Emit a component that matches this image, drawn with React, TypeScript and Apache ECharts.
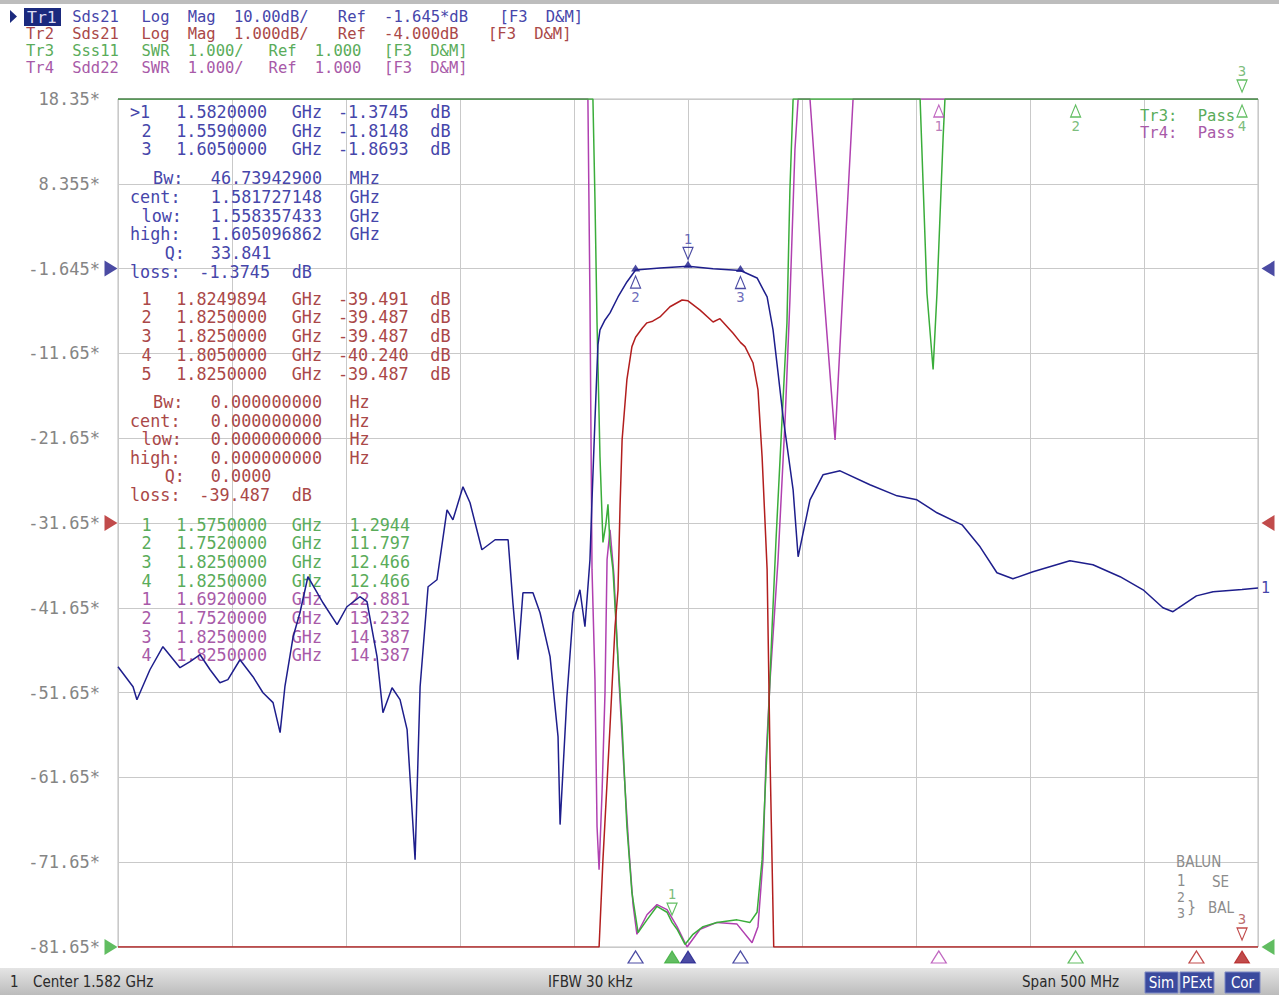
import React, { useEffect, useRef } from "react";
import * as echarts from "echarts";

// ---------- instrument settings ----------
const CENTER_MHZ = 1582;
const SPAN_MHZ = 500;
const F_START = CENTER_MHZ - SPAN_MHZ / 2;
const F_STOP = CENTER_MHZ + SPAN_MHZ / 2;
const DIVS = 10;

const TR1_SCALE = 10, TR1_REF = -1.645, TR1_REF_POS = 8;
const TR2_SCALE = 1, TR2_REF = -4, TR2_REF_POS = 5;
const SWR_SCALE = 1, SWR_REF = 1, SWR_REF_POS = 0;

const Y_TICK_LABELS = ["18.35*", "8.355*", "-1.645*", "-11.65*", "-21.65*", "-31.65*", "-41.65*", "-51.65*", "-61.65*", "-71.65*", "-81.65*"];

const HEADER_LINES = [
  "Tr1 Sds21 Log Mag 10.00dB/ Ref -1.645*dB [F3 D&M]",
  "Tr2 Sds21 Log Mag 1.000dB/ Ref -4.000dB [F3 D&M]",
  "Tr3 Sss11 SWR 1.000/ Ref 1.000 [F3 D&M]",
  "Tr4 Sdd22 SWR 1.000/ Ref 1.000 [F3 D&M]",
];

// ---------- traces: [frequency MHz, value] ----------
const TR1_DB = [
  [1332.0, -48.6], [1338.6, -50.95], [1340.3, -52.48], [1346.0, -48.95], [1351.7, -46.23], [1359.2, -48.71],
  [1363.6, -48.0], [1368.0, -47.18], [1372.4, -48.95], [1376.7, -50.48], [1380.2, -50.12], [1385.5, -47.77],
  [1391.2, -49.77], [1395.6, -51.66], [1400.0, -52.83], [1403.1, -56.37], [1405.2, -50.95], [1408.8, -45.06],
  [1411.8, -42.23], [1415.3, -37.98], [1421.9, -41.05], [1428.1, -43.64], [1432.4, -41.52], [1438.1, -40.34],
  [1441.2, -40.93], [1445.6, -47.41], [1448.2, -54.01], [1452.2, -51.07], [1455.7, -52.48], [1458.8, -56.02],
  [1462.3, -71.34], [1464.5, -50.95], [1468.0, -39.16], [1471.9, -38.34], [1476.3, -30.09], [1478.9, -31.27],
  [1483.3, -27.38], [1486.4, -29.26], [1491.6, -34.8], [1497.4, -33.62], [1503.1, -33.62], [1505.2, -41.05],
  [1507.4, -47.77], [1509.6, -39.87], [1514.0, -39.87], [1517.1, -42.23], [1521.5, -47.41], [1525.0, -56.84],
  [1525.9, -67.21], [1528.9, -52.13], [1531.6, -42.23], [1534.6, -39.52], [1536.8, -43.88], [1539.0, -35.98],
  [1539.9, -28.91], [1541.2, -19.48], [1542.5, -10.64], [1543.4, -8.87], [1545.6, -7.7], [1547.8, -6.87],
  [1551.3, -4.99], [1555.2, -3.22], [1559.0, -1.81], [1569.7, -1.57], [1582.0, -1.37], [1593.0, -1.65],
  [1605.0, -1.87], [1612.3, -2.75], [1616.7, -4.99], [1619.3, -8.87], [1621.5, -13.94], [1623.7, -19.13],
  [1628.1, -27.73], [1630.3, -35.63], [1635.5, -28.91], [1641.2, -25.96], [1648.7, -25.49], [1661.8, -27.14],
  [1673.7, -28.44], [1682.4, -28.91], [1691.2, -30.44], [1702.2, -31.86], [1710.1, -34.45], [1717.5, -37.51],
  [1724.5, -38.22], [1733.3, -37.4], [1749.5, -36.1], [1759.6, -36.57], [1771.5, -37.98], [1781.6, -39.52],
  [1790.3, -41.64], [1794.7, -42.11], [1805.0, -40.24], [1812.3, -39.75], [1825.0, -39.49], [1832.0, -39.3],
];

const TR2_DB = [
  [1332.0, -48.6], [1540.0, -36.0], [1543.0, -12.0], [1544.7, -7.97], [1547.8, -6.4], [1550.0, -5.22],
  [1551.3, -4.79], [1552.2, -3.8], [1553.1, -3.02], [1555.2, -2.31], [1557.4, -1.92], [1559.0, -1.81],
  [1562.0, -1.7], [1564.0, -1.64], [1566.5, -1.62], [1569.7, -1.57], [1574.1, -1.45], [1579.4, -1.37],
  [1582.0, -1.38], [1587.3, -1.49], [1593.0, -1.63], [1596.0, -1.59], [1601.7, -1.76], [1605.0, -1.87],
  [1607.0, -1.92], [1610.5, -2.11], [1612.7, -2.43], [1614.5, -3.22], [1615.8, -4.0], [1616.7, -4.55],
  [1618.0, -6.79], [1619.6, -9.6], [1625.0, -20.0], [1700.0, -32.0], [1805.0, -40.24], [1825.0, -39.49],
  [1832.0, -39.3],
];

const TR3_SWR = [
  [1332.0, 15], [1530.0, 15], [1539.0, 12], [1540.3, 11.0], [1541.2, 9.81], [1542.1, 8.36], [1543.4, 6.78],
  [1544.7, 5.77], [1546.0, 5.99], [1546.9, 6.22], [1547.8, 5.74], [1549.1, 5.45], [1551.3, 4.39], [1553.1, 3.6],
  [1555.2, 2.42], [1557.4, 1.64], [1560.1, 1.17], [1564.0, 1.32], [1568.4, 1.48], [1572.8, 1.41], [1575.0, 1.29],
  [1577.2, 1.21], [1580.7, 1.03], [1584.2, 1.15], [1588.6, 1.24], [1594.7, 1.29], [1603.5, 1.32], [1609.2, 1.29],
  [1612.3, 1.41], [1614.5, 2.03], [1615.8, 2.82], [1617.1, 3.6], [1618.9, 4.78], [1620.6, 5.8], [1622.8, 6.98],
  [1625.4, 8.36], [1626.7, 9.93], [1628.1, 11.0], [1640.0, 14], [1670.0, 14], [1682.0, 12], [1683.8, 11.0],
  [1686.8, 8.71], [1689.5, 7.81], [1691.2, 8.71], [1693.9, 10.55], [1694.7, 11.0], [1700.0, 12.5],
  [1752.0, 11.797], [1825.0, 12.466], [1832.0, 12.5],
];

const TR4_SWR = [
  [1332.0, 20], [1500.0, 20], [1536.0, 14], [1538.1, 11.0], [1539.0, 8.63], [1539.9, 5.45], [1541.2, 4.15],
  [1542.1, 2.42], [1543.0, 1.91], [1544.3, 2.82], [1545.6, 4.0], [1546.5, 5.57], [1547.8, 5.92], [1549.5, 5.39],
  [1551.7, 4.15], [1553.9, 3.09], [1556.1, 2.15], [1557.9, 1.5], [1559.6, 1.15], [1564.0, 1.38], [1568.4, 1.5],
  [1572.8, 1.44], [1577.2, 1.24], [1581.6, 1.0], [1587.3, 1.21], [1594.7, 1.29], [1603.5, 1.27], [1610.1, 1.05],
  [1612.7, 1.24], [1614.9, 2.03], [1616.2, 3.21], [1618.0, 4.15], [1621.5, 5.57], [1624.6, 7.22], [1626.7, 8.63],
  [1628.9, 10.4], [1630.3, 11.0], [1632.5, 12], [1634.0, 12], [1635.5, 11.0], [1640.8, 8.98], [1646.5, 6.98],
  [1650.4, 8.98], [1654.4, 11.0], [1660.0, 15], [1692.0, 22.881], [1752.0, 13.232], [1825.0, 14.387],
  [1832.0, 14.5],
];

// ---------- markers: n, frequency MHz, value ----------
const TR1_MARKERS = [
  { n: 1, f: 1582.0, v: -1.3745 },
  { n: 2, f: 1559.0, v: -1.8148 },
  { n: 3, f: 1605.0, v: -1.8693 },
];
const TR2_MARKERS = [
  { n: 1, f: 1824.9894, v: -39.491 },
  { n: 2, f: 1825.0, v: -39.487 },
  { n: 3, f: 1825.0, v: -39.487 },
  { n: 4, f: 1805.0, v: -40.24 },
  { n: 5, f: 1825.0, v: -39.487 },
];
const TR3_MARKERS = [
  { n: 1, f: 1575.0, v: 1.2944 },
  { n: 2, f: 1752.0, v: 11.797 },
  { n: 3, f: 1825.0, v: 12.466 },
  { n: 4, f: 1825.0, v: 12.466 },
];
const TR4_MARKERS = [
  { n: 1, f: 1692.0, v: 22.881 },
  { n: 2, f: 1752.0, v: 13.232 },
  { n: 3, f: 1825.0, v: 14.387 },
  { n: 4, f: 1825.0, v: 14.387 },
];

const TR1_STATS = ["  Bw:  46.73942900 MHz", "cent:  1.581727148 GHz", " low:  1.558357433 GHz", "high:  1.605096862 GHz", "   Q:  33.841", "loss: -1.3745 dB"];
const TR2_STATS = ["  Bw:  0.000000000 Hz", "cent:  0.000000000 Hz", " low:  0.000000000 Hz", "high:  0.000000000 Hz", "   Q:  0.0000", "loss: -39.487 dB"];

// ---------- styling ----------
const COL = {
  tr1: "#1e1e8c", tr1Text: "#4646aa",
  tr2: "#b21e1e", tr2Text: "#aa4848",
  tr3: "#3aad3a", tr3Text: "#5aac5a",
  tr4: "#b040b0", tr4Text: "#a85aa8",
  grid: "#c9c9c9", axisText: "#858585",
};
const MONO = '"DejaVu Sans Mono", monospace';
const SANS_C = '"DejaVu Sans Condensed", "Liberation Sans Narrow", sans-serif';
const PITCH = 11.55;
const TABLE_FONT = `16.8px ${MONO}`;
const HEAD_FONT = `15.5px ${MONO}`;

const UP = "path://M5,0L10,12L0,12Z";
const DOWN = "path://M0,0L10,0L5,12Z";
const RIGHT = "path://M0,0L12,7L0,14Z";
const LEFT = "path://M12,0L0,7L12,14Z";

const ON_TRACE: Record<string, { n: number; above: boolean }[]> = {
  tr1: [{ n: 1, above: true }, { n: 2, above: false }, { n: 3, above: false }],
  tr2: [{ n: 3, above: true }],
  tr3: [{ n: 1, above: true }, { n: 2, above: false }, { n: 3, above: true }, { n: 4, above: false }],
  tr4: [{ n: 1, above: false }],
};
const BOTTOM_ROW = [
  { tr: "tr1", n: 2, filled: false },
  { tr: "tr3", n: 1, filled: true },
  { tr: "tr1", n: 1, filled: true },
  { tr: "tr1", n: 3, filled: false },
  { tr: "tr4", n: 1, filled: false },
  { tr: "tr3", n: 2, filled: false },
  { tr: "tr2", n: 4, filled: false },
  { tr: "tr2", n: 3, filled: true },
];

const GRID = { left: 118, top: 99, width: 1140, height: 848 };

function txt(text: string, x: number, y: number, fill: string, font: string, extra: any = {}) {
  return { type: "text", x, y, z: 1, silent: true, style: { text, fill, font, verticalAlign: "middle", ...extra } };
}

// place each word of a fixed-pitch line at its column
function pitchLine(line: string, x0: number, y: number, fill: string, font: string, skipFirst = 0) {
  const out: any[] = [];
  const re = /\S+/g;
  let m: RegExpExecArray | null;
  while ((m = re.exec(line))) {
    if (m.index < skipFirst) continue;
    out.push(txt(m[0], x0 + m.index * PITCH, y, fill, font));
  }
  return out;
}

function buildOption() {
  const ranges: Record<string, [number, number]> = {
    tr1: [TR1_REF - TR1_REF_POS * TR1_SCALE, TR1_REF + (DIVS - TR1_REF_POS) * TR1_SCALE],
    tr2: [TR2_REF - TR2_REF_POS * TR2_SCALE, TR2_REF + (DIVS - TR2_REF_POS) * TR2_SCALE],
    swr: [SWR_REF - SWR_REF_POS * SWR_SCALE, SWR_REF + (DIVS - SWR_REF_POS) * SWR_SCALE],
  };
  const axisOf: Record<string, number> = { tr1: 1, tr2: 2, tr3: 3, tr4: 3 };
  const rangeOf: Record<string, [number, number]> = { tr1: ranges.tr1, tr2: ranges.tr2, tr3: ranges.swr, tr4: ranges.swr };
  const color: Record<string, string> = { tr1: COL.tr1, tr2: COL.tr2, tr3: COL.tr3, tr4: COL.tr4 };
  const textColor: Record<string, string> = { tr1: COL.tr1Text, tr2: COL.tr2Text, tr3: COL.tr3Text, tr4: COL.tr4Text };
  const markers: Record<string, { n: number; f: number; v: number }[]> = { tr1: TR1_MARKERS, tr2: TR2_MARKERS, tr3: TR3_MARKERS, tr4: TR4_MARKERS };
  const clamp = (tr: string, v: number) => Math.min(rangeOf[tr][1], Math.max(rangeOf[tr][0], v));

  const lineSeries = (tr: string, data: number[][], extra: any = {}) => ({
    type: "line",
    xAxisIndex: 1,
    yAxisIndex: axisOf[tr],
    data: data.map(([f, v]) => [f, clamp(tr, v)]),
    symbol: "none",
    lineStyle: { color: color[tr], width: 1.5 },
    itemStyle: { color: color[tr] },
    silent: true,
    ...extra,
  });

  const markerSeries = (tr: string) => ({
    type: "scatter",
    xAxisIndex: 1,
    yAxisIndex: axisOf[tr],
    clip: false,
    silent: true,
    z: 6,
    data: ON_TRACE[tr].map(({ n, above }) => {
      const m = markers[tr].find((k) => k.n === n)!;
      return {
        value: [m.f, clamp(tr, m.v)],
        symbol: above ? DOWN : UP,
        symbolSize: [10, 12],
        symbolOffset: [0, above ? -13 : 12],
        label: {
          show: true,
          formatter: String(n),
          position: above ? "top" : "bottom",
          distance: 1,
          color: textColor[tr],
          fontFamily: MONO,
          fontSize: 14,
        },
      };
    }),
    itemStyle: { color: "rgba(255,255,255,0)", borderColor: color[tr], borderWidth: 1.2 },
  });

  const tr1Dots = {
    type: "scatter",
    xAxisIndex: 1,
    yAxisIndex: 1,
    clip: false,
    silent: true,
    z: 7,
    symbol: "triangle",
    symbolSize: [9, 7],
    symbolOffset: [0, -2],
    itemStyle: { color: COL.tr1 },
    data: TR1_MARKERS.map((m) => [m.f, m.v]),
  };

  const bottomRow = {
    type: "scatter",
    xAxisIndex: 1,
    yAxisIndex: 0,
    clip: false,
    silent: true,
    z: 6,
    data: BOTTOM_ROW.map(({ tr, n, filled }) => {
      const m = markers[tr].find((k) => k.n === n)!;
      return {
        value: [m.f, 0],
        symbol: UP,
        symbolSize: [15, 12],
        symbolOffset: [0, 10],
        itemStyle: filled
          ? { color: color[tr], borderColor: color[tr], borderWidth: 1 }
          : { color: "rgba(255,255,255,0)", borderColor: color[tr], borderWidth: 1.2 },
      };
    }),
  };

  const refMarks = {
    type: "scatter",
    xAxisIndex: 0,
    yAxisIndex: 0,
    clip: false,
    silent: true,
    z: 6,
    data: [
      { pos: TR1_REF_POS, c: COL.tr1 },
      { pos: TR2_REF_POS, c: COL.tr2 },
      { pos: SWR_REF_POS, c: COL.tr3 },
    ].flatMap(({ pos, c }) => [
      { value: [0, pos], symbol: RIGHT, symbolSize: [13, 16], symbolOffset: [-7, 0], itemStyle: { color: c } },
      { value: [DIVS, pos], symbol: LEFT, symbolSize: [13, 16], symbolOffset: [10, 0], itemStyle: { color: c } },
    ]),
  };

  // ---------- texts ----------
  const fmtRow = (m: { n: number; f: number; v: number }, active: boolean, unit: string) =>
    `${active ? ">" : " "}${m.n}  ${(m.f / 1000).toFixed(7)} GHz ${m.v < 0 ? "" : " "}${m.v.toPrecision(5)}${unit ? " " + unit : ""}`;

  const tableLines: { text: string; y: number; c: string }[] = [];
  const addGroup = (rows: string[], y0: number, step: number, c: string | string[]) =>
    rows.forEach((t, i) => tableLines.push({ text: t, y: y0 + i * step, c: Array.isArray(c) ? c[i] : c }));
  addGroup(TR1_MARKERS.map((m) => fmtRow(m, m.n === 1, "dB")), 112, 18.6, COL.tr1Text);
  addGroup(TR1_STATS, 178, 18.8, COL.tr1Text);
  addGroup(TR2_MARKERS.map((m) => fmtRow(m, false, "dB")), 298.5, 18.9, COL.tr2Text);
  addGroup(TR2_STATS, 402, 18.6, COL.tr2Text);
  addGroup(
    [...TR3_MARKERS.map((m) => fmtRow(m, false, "")), ...TR4_MARKERS.map((m) => fmtRow(m, false, ""))],
    524.5, 18.7,
    [...TR3_MARKERS.map(() => COL.tr3Text), ...TR4_MARKERS.map(() => COL.tr4Text)]
  );

  const headerColors = [COL.tr1Text, COL.tr2Text, COL.tr3Text, COL.tr4Text];
  const gray = "#8c8c8c";
  const graphic: any[] = [
    { type: "rect", shape: { x: 0, y: 0, width: 1279, height: 4 }, style: { fill: "#bdbdbd" }, silent: true },
    { type: "polygon", shape: { points: [[10, 10], [17, 16.5], [10, 23]] }, style: { fill: "#1b2a7e" }, silent: true },
    { type: "rect", shape: { x: 24, y: 8, width: 37, height: 18 }, style: { fill: "#1b2a7e" }, silent: true },
    txt("Tr1", 27, 17, "#dcdcf2", `16.5px ${MONO}`),
    ...pitchLine(HEADER_LINES[0], 26, 17, headerColors[0], HEAD_FONT, 3),
    ...HEADER_LINES.slice(1).flatMap((t, i) => pitchLine(t, 26, 34 + i * 17, headerColors[i + 1], HEAD_FONT)),
    ...tableLines.flatMap((l) => pitchLine(l.text, 130, l.y, l.c, TABLE_FONT)),
    ...pitchLine("Tr3: Pass", 1140, 116, COL.tr3Text, HEAD_FONT),
    ...pitchLine("Tr4: Pass", 1140, 133, COL.tr4Text, HEAD_FONT),
    // balun legend
    txt("BALUN", 1176, 862, gray, `15px ${SANS_C}`),
    txt("1", 1177, 881, gray, `15px ${SANS_C}`),
    txt("SE", 1212, 882, gray, `15px ${SANS_C}`),
    txt("2", 1177, 897, gray, `14px ${SANS_C}`),
    txt("3", 1177, 913, gray, `14px ${SANS_C}`),
    txt("}", 1187, 906, gray, `16px ${SANS_C}`),
    txt("BAL", 1208, 908, gray, `15px ${SANS_C}`),
    // status bar
    {
      type: "rect", silent: true, shape: { x: 0, y: 968, width: 1279, height: 27 },
      style: { fill: new echarts.graphic.LinearGradient(0, 0, 0, 1, [{ offset: 0, color: "#e4e4e4" }, { offset: 1, color: "#bcbcbc" }]) },
    },
    txt("1", 10, 982, "#2a2a2a", `15px ${SANS_C}`),
    txt("Center 1.582 GHz", 33, 982, "#2a2a2a", `15px ${SANS_C}`),
    txt("IFBW 30 kHz", 548, 982, "#2a2a2a", `15px ${SANS_C}`),
    txt("Span 500 MHz", 1022, 982, "#2a2a2a", `15px ${SANS_C}`),
    ...[
      { t: "Sim", x: 1145, w: 33 },
      { t: "PExt", x: 1180, w: 34 },
      { t: "Cor", x: 1225, w: 35 },
    ].flatMap(({ t, x, w }) => [
      { type: "rect", silent: true, shape: { x, y: 972, width: w, height: 21 }, style: { fill: "#3b4a9e", stroke: "#7f8ac4", lineWidth: 1 } },
      txt(t, x + w / 2, 983, "#ffffff", `15px ${SANS_C}`, { align: "center" }),
    ]),
  ];

  return {
    animation: false,
    backgroundColor: "#ffffff",
    grid: { ...GRID, show: true, borderColor: "#bdbdbd", borderWidth: 1, containLabel: false },
    xAxis: [
      {
        type: "value", min: 0, max: DIVS, interval: 1,
        axisLine: { show: false }, axisTick: { show: false }, axisLabel: { show: false },
        splitLine: { show: true, lineStyle: { color: COL.grid, width: 1 } },
      },
      { type: "value", min: F_START, max: F_STOP, show: false },
    ],
    yAxis: [
      {
        type: "value", min: 0, max: DIVS, interval: 1,
        axisLine: { show: false }, axisTick: { show: false },
        axisLabel: {
          formatter: (v: number) => Y_TICK_LABELS[DIVS - Math.round(v)],
          color: COL.axisText, fontFamily: MONO, fontSize: 17, margin: 18,
        },
        splitLine: { show: true, lineStyle: { color: COL.grid, width: 1 } },
      },
      { type: "value", min: ranges.tr1[0], max: ranges.tr1[1], show: false },
      { type: "value", min: ranges.tr2[0], max: ranges.tr2[1], show: false },
      { type: "value", min: ranges.swr[0], max: ranges.swr[1], show: false },
    ],
    series: [
      lineSeries("tr4", TR4_SWR, { z: 2 }),
      lineSeries("tr3", TR3_SWR, { z: 3 }),
      lineSeries("tr2", TR2_DB, { z: 4 }),
      lineSeries("tr1", TR1_DB, {
        z: 5,
        endLabel: { show: true, formatter: "1", color: COL.tr1Text, fontFamily: MONO, fontSize: 15, distance: 3 },
      }),
      markerSeries("tr4"),
      markerSeries("tr3"),
      markerSeries("tr2"),
      markerSeries("tr1"),
      tr1Dots,
      bottomRow,
      refMarks,
    ],
    graphic,
  };
}

export default function App() {
  const ref = useRef<HTMLDivElement>(null);
  useEffect(() => {
    document.body.style.margin = "0";
    const chart = echarts.init(ref.current!, undefined, { renderer: "svg" });
    chart.setOption(buildOption() as any);
    return () => chart.dispose();
  }, []);
  return <div ref={ref} style={{ width: 1279, height: 995, background: "#ffffff" }} />;
}
